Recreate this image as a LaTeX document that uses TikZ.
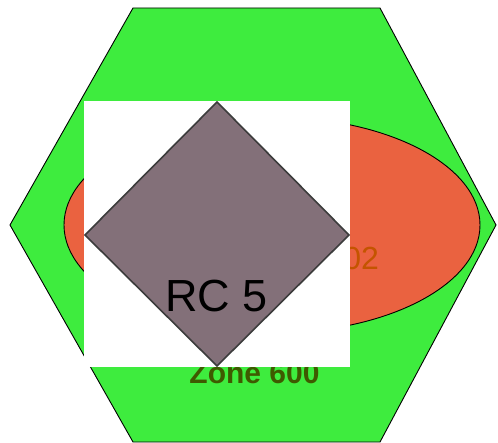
\documentclass[tikz,border=0pt]{standalone}
\usepackage{fontspec}
\setmainfont{Liberation Sans}
\definecolor{hexgreen}{RGB}{62,236,62}
\definecolor{ellorange}{RGB}{234,98,64}
\definecolor{diafill}{RGB}{131,112,121}
\definecolor{diaedge}{RGB}{60,60,60}
\definecolor{txtorange}{RGB}{196,84,0}
\definecolor{txtgreen}{RGB}{62,90,0}
\tikzset{
  hexzone/.style={fill=hexgreen, draw=black, line width=0.9pt, line join=miter},
  ellzone/.style={fill=ellorange, draw=black, line width=0.9pt},
  whitebox/.style={fill=white, draw=none},
  diashape/.style={fill=diafill, draw=diaedge, line width=1.6pt, line join=miter},
  lbl/.style={inner sep=0pt, outer sep=0pt}
}
\begin{document}
\begin{tikzpicture}[x=1pt,y=-1pt]
\useasboundingbox (0,0) rectangle (498,443);
% hexagon zone
\draw[hexzone] (10,225) -- (133,8) -- (380,8) -- (496,225) -- (380,442) -- (133,442) -- cycle;
% ellipse zone
\draw[ellzone] (272,225) ellipse [x radius=208, y radius=108];
% labels of zones
\node[lbl, anchor=base east, text=txtorange, font=\fontsize{32}{32}\selectfont] (ellabel) at (379,270) {02};
\node[lbl, anchor=base, text=txtgreen, font=\fontsize{30}{30}\selectfont\bfseries] (hexlabel) at (254.5,384) {Zone 600};
% white image area
\fill[whitebox] (84,101) rectangle (350,367);
% diamond
\draw[diashape] (217,102) -- (349,235) -- (217,366) -- (85,235) -- cycle;
\node[lbl, anchor=base, text=black, font=\fontsize{45}{45}\selectfont] (rclabel) at (216.5,312) {RC 5};
\end{tikzpicture}
\end{document}
